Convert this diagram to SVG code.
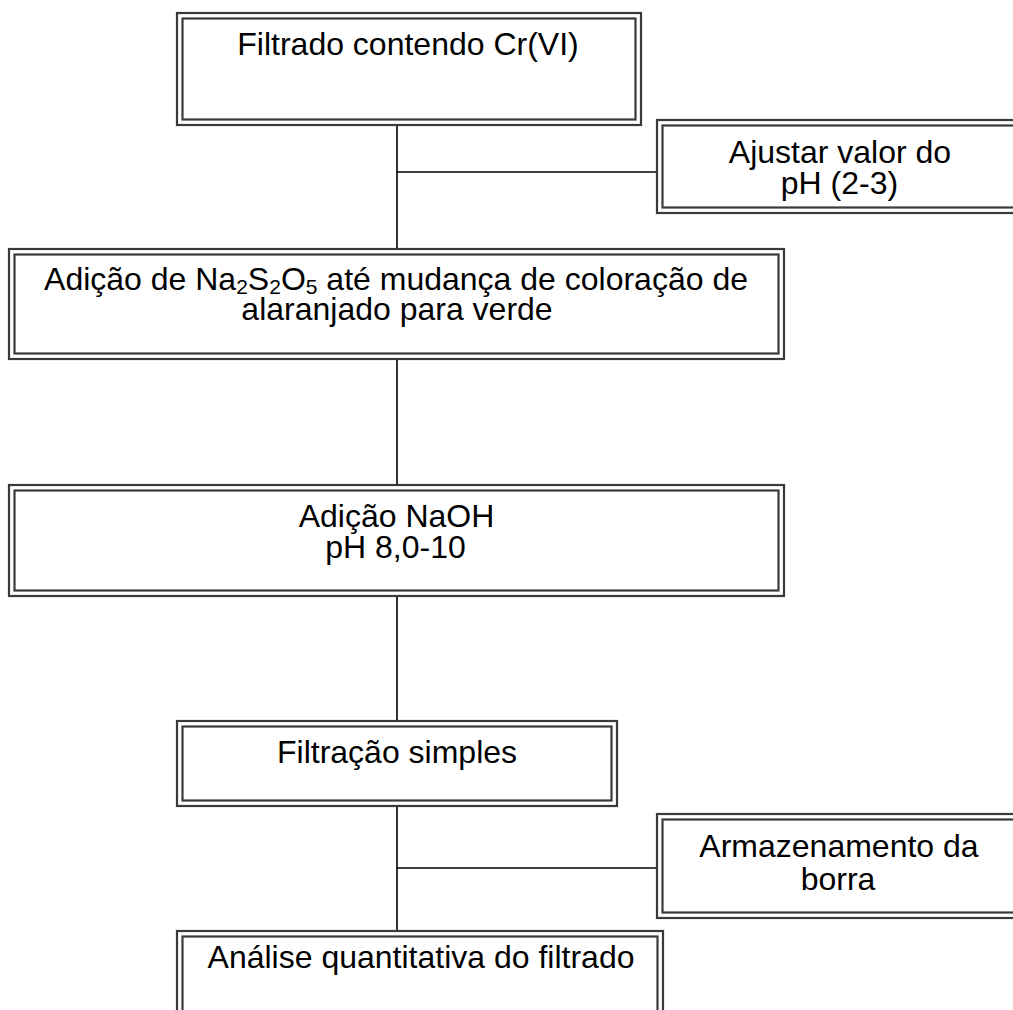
<svg xmlns="http://www.w3.org/2000/svg" width="1013" height="1010" viewBox="0 0 1013 1010">
<style>
.o{fill:#fff;stroke:#3a3a3a;stroke-width:2.2}
.i{fill:none;stroke:#3a3a3a;stroke-width:2.2}
.c{stroke:#000;stroke-width:1.6;fill:none}
text{font-family:"Liberation Sans",Arial,sans-serif;font-size:32px;fill:#000;text-anchor:middle}
.s{font-size:21px}
</style>
<rect width="1013" height="1010" fill="#fff"/>
<g id="connectors">
<line class="c" x1="397" y1="125" x2="397" y2="249"/>
<line class="c" x1="397" y1="172" x2="656" y2="172"/>
<line class="c" x1="397" y1="359" x2="397" y2="485"/>
<line class="c" x1="397" y1="596" x2="397" y2="721"/>
<line class="c" x1="397" y1="806" x2="397" y2="931"/>
<line class="c" x1="397" y1="868" x2="657" y2="868"/>
</g>
<g id="n1">
<rect class="o" x="177" y="13" width="464" height="112"/>
<rect class="i" x="182.5" y="18.5" width="453" height="101"/>
<text x="408" y="55">Filtrado contendo Cr(VI)</text>
</g>
<g id="n2">
<rect class="o" x="657" y="120" width="370" height="93"/>
<rect class="i" x="662.5" y="125.5" width="359" height="82"/>
<text x="840" y="163">Ajustar valor do</text>
<text x="839.5" y="194">pH (2-3)</text>
</g>
<g id="n3">
<rect class="o" x="9" y="249" width="775" height="110"/>
<rect class="i" x="14.5" y="254.5" width="764" height="99"/>
<text x="396" y="290">Adição de Na<tspan class="s" dy="4">2</tspan><tspan dy="-4">S</tspan><tspan class="s" dy="4">2</tspan><tspan dy="-4">O</tspan><tspan class="s" dy="4">5</tspan><tspan dy="-4"> até mudança de coloração de</tspan></text>
<text x="397" y="320">alaranjado para verde</text>
</g>
<g id="n4">
<rect class="o" x="9" y="485" width="775" height="111"/>
<rect class="i" x="14.5" y="490.5" width="764" height="100"/>
<text x="396.5" y="527">Adição NaOH</text>
<text x="395.5" y="558">pH 8,0-10</text>
</g>
<g id="n5">
<rect class="o" x="177" y="721" width="440" height="85"/>
<rect class="i" x="182.5" y="726.5" width="429" height="74"/>
<text x="397" y="763">Filtração simples</text>
</g>
<g id="n6">
<rect class="o" x="657" y="814" width="370" height="104"/>
<rect class="i" x="662.5" y="819.5" width="359" height="93"/>
<text x="839" y="857">Armazenamento da</text>
<text x="838" y="890">borra</text>
</g>
<g id="n7">
<rect class="o" x="177" y="931" width="486" height="100"/>
<rect class="i" x="182.5" y="936.5" width="475" height="89"/>
<text x="421" y="968">Análise quantitativa do filtrado</text>
</g>
</svg>
